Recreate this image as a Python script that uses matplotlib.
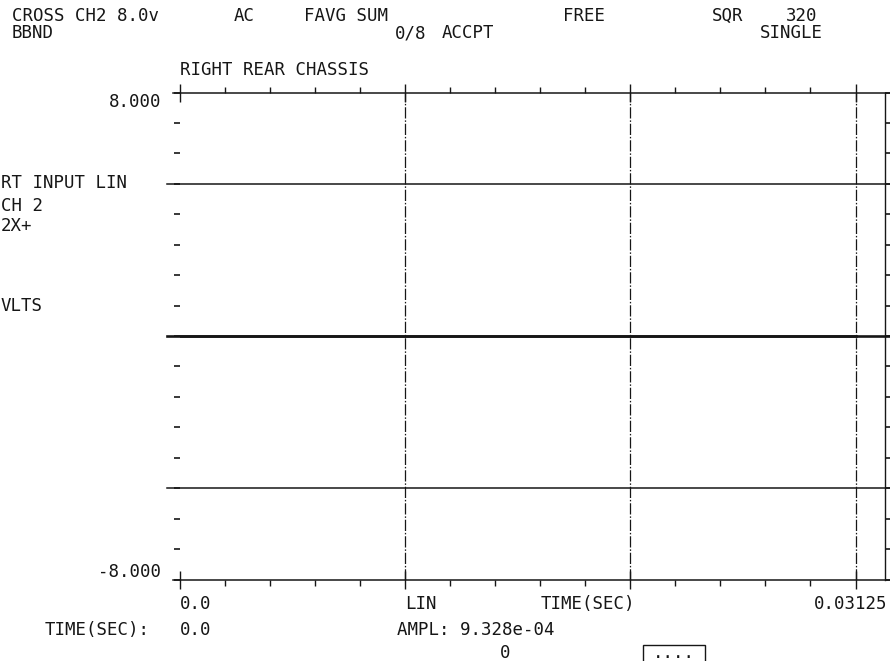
import matplotlib
matplotlib.use("Agg")
import matplotlib.pyplot as plt
from matplotlib.ticker import MultipleLocator, NullFormatter
from matplotlib.patches import Rectangle

# analyzer settings / readout text
header_row1 = ["CROSS CH2 8.0v", "AC", "FAVG SUM", "FREE", "SQR", "320"]
header_row2 = ["BBND", "0/8", "ACCPT", "SINGLE"]
title = "RIGHT REAR CHASSIS"
side_labels = ["RT INPUT LIN", "CH 2", "2X+", "VLTS"]

# scales
y_max = 8.0
y_min = -8.0
x_end = 0.03125          # last labelled time (sec)
ref_levels = [5.0, 0.0, -5.0]

# trace (flat, near zero) and cursor readout
time_sec = [0.0, 0.03125]
ampl_v = [0.0, 0.0]
cursor_time = 0.0
cursor_ampl = 9.328e-04
cursor_index = 0

W, H = 890, 661
INK = "#161616"
plt.rcParams["font.family"] = ["DejaVu Sans Mono", "DejaVu Sans"]
FS = 12.5


def fx(x):
    return x / W


def fy(y):
    return 1 - y / H


def put(x, y, s, ha="left"):
    fig.text(fx(x), fy(y), s, fontsize=FS, va="center", ha=ha, color=INK)


fig = plt.figure(figsize=(W / 100, H / 100), dpi=100)
ax = fig.add_axes([fx(180), fy(579.5), fx(885) - fx(180), fy(92.5) - fy(579.5)])

x_right = x_end * (885 - 180) / (855.5 - 180)
ax.set_xlim(0, x_right)
ax.set_ylim(y_min, y_max)

for s in ["left", "top", "bottom"]:
    ax.spines[s].set_visible(False)
ax.spines["right"].set_color(INK)
ax.spines["right"].set_linewidth(1.0)

# x ticks: majors every third of span, minors every fifth of a major
major = x_end / 3
ax.xaxis.set_major_locator(MultipleLocator(major))
ax.xaxis.set_minor_locator(MultipleLocator(major / 5))
ax.xaxis.set_major_formatter(NullFormatter())
ax.tick_params(axis="x", which="major", top=True, bottom=True, direction="inout",
               length=13, width=1.0, color=INK)
ax.tick_params(axis="x", which="minor", top=True, bottom=True, direction="out",
               length=4, width=1.0, color=INK)

ax.yaxis.set_major_locator(MultipleLocator(1))
ax.yaxis.set_major_formatter(NullFormatter())
ax.tick_params(axis="y", which="major", left=True, right=True, direction="out",
               length=4, width=1.2, color=INK, pad=2)

# frame lines top/bottom and reference levels, extending a little past the frame
ext_r = (890 - 180) / (885 - 180)
for yv in [y_max, y_min]:
    ax.axhline(yv, xmin=(173 - 180) / 705, xmax=ext_r, color=INK, lw=1.1, clip_on=False)
for yv in ref_levels:
    ax.axhline(yv, xmin=(167 - 180) / 705, xmax=ext_r, color=INK,
               lw=1.9 if yv == 0 else 1.1, clip_on=False)

# dash-dot verticals at major divisions
for k in range(1, 4):
    ax.axvline(k * major, color=INK, lw=0.9, dashes=(9, 1.5, 1.2, 1.5))

ax.plot(time_sec, ampl_v, color=INK, lw=1.9)

# header
row1_pos = [(12, "left"), (244, "center"), (346, "center"), (584, "center"),
            (728, "center"), (802, "center")]
row2_pos = [(12, "left"), (411, "center"), (468, "center"), (791, "center")]
for s, (x, ha) in zip(header_row1, row1_pos):
    put(x, 16, s, ha)
for s, (x, ha) in zip(header_row2, row2_pos):
    put(x, 33, s, ha)

put(180, 70, title)

# y labels
put(161, 102, f"{y_max:.3f}", "right")
put(161, 572, f"{y_min:.3f}", "right")

side_y = [183, 206, 226, 306]
for s, y in zip(side_labels, side_y):
    put(1, y, s)

# x labels
put(180, 604, f"{time_sec[0]:.1f}")
put(405, 604, "LIN")
put(588, 604, "TIME(SEC)", "center")
put(887, 604, f"{x_end:.5f}", "right")

# cursor readout
put(97, 630, "TIME(SEC):", "center")
put(180, 630, f"{cursor_time:.1f}")
put(397, 630, f"AMPL: {cursor_ampl:.3e}")
put(505, 653, str(cursor_index), "center")

fig.patches.append(Rectangle((fx(643), fy(672)), fx(705) - fx(643), fy(645) - fy(672),
                             transform=fig.transFigure, fill=False, ec=INK, lw=1.0))
put(674, 653, "....", "center")

fig.savefig("out.png", dpi=100, facecolor="white")
